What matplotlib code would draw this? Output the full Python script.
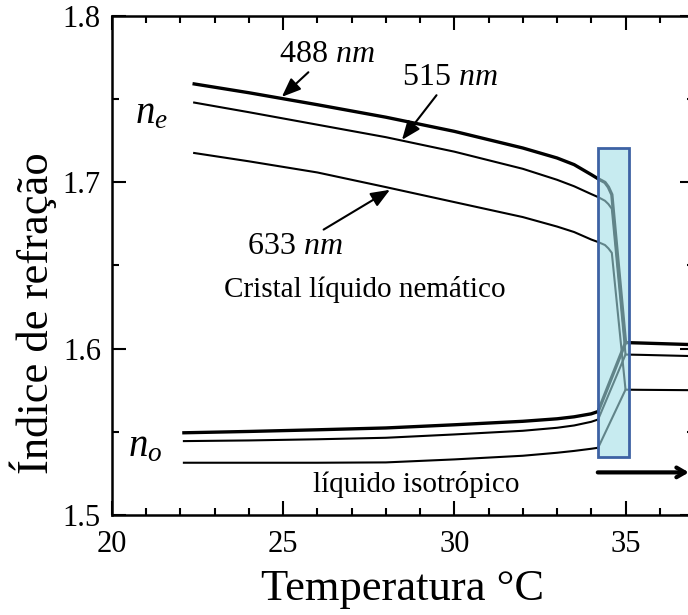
import matplotlib
matplotlib.use("Agg")
import matplotlib.pyplot as plt
import numpy as np
from matplotlib.patches import Rectangle

plt.rcParams["font.family"] = "Liberation Serif"
plt.rcParams["mathtext.fontset"] = "custom"
plt.rcParams["mathtext.rm"] = "Liberation Serif"
plt.rcParams["mathtext.it"] = "Liberation Serif:italic"

# nematic phase, extraordinary index (ne) up to the clearing point
temp_ne = [22.4, 24, 26, 28, 30, 32, 33, 33.5, 34, 34.2, 34.4, 34.5, 34.6]
ne_488 = [1.7590, 1.7537, 1.7465, 1.7390, 1.7305, 1.7205, 1.7145, 1.7105, 1.7045, 1.7020, 1.6998, 1.6970, 1.6925]
ne_515 = [1.7478, 1.7420, 1.7345, 1.7270, 1.7183, 1.7080, 1.7014, 1.6975, 1.6928, 1.6910, 1.6888, 1.6868, 1.6840]
ne_633 = [1.7175, 1.7125, 1.7058, 1.6970, 1.6880, 1.6790, 1.6733, 1.6700, 1.6655, 1.6640, 1.6622, 1.6602, 1.6575]

# nematic phase, ordinary index (no)
temp_no = [22.1, 24, 26, 28, 30, 32, 33, 33.5, 34, 34.2]
no_488 = [1.5494, 1.5502, 1.5512, 1.5523, 1.5542, 1.5563, 1.5578, 1.5590, 1.5608, 1.5622]
no_515 = [1.5444, 1.5448, 1.5455, 1.5464, 1.5484, 1.5506, 1.5524, 1.5538, 1.5560, 1.5574]
no_633 = [1.5314, 1.5314, 1.5314, 1.5316, 1.5334, 1.5356, 1.5374, 1.5385, 1.5398, 1.5404]

# isotropic liquid
temp_iso = [35.0, 35.5, 36.9]
iso_488 = [1.6036, 1.6033, 1.6024]
iso_515 = [1.5964, 1.5962, 1.5955]
iso_633 = [1.5753, 1.5752, 1.5750]

# transition band
band_t = [34.19, 35.10]
band_n = [1.5347, 1.7206]

fig = plt.figure(figsize=(6.88, 6.15), dpi=100)
ax = fig.add_axes([0.1628, 0.1626, 0.8459, 0.8119])

series = [(ne_488, no_488, iso_488, 2.4), (ne_515, no_515, iso_515, 1.5), (ne_633, no_633, iso_633, 1.5)]
for ne, no, iso, lw in series:
    ax.plot(temp_ne + temp_iso, ne + iso, color="black", lw=lw, zorder=2)
    ax.plot(temp_no + temp_iso[:1], no + iso[:1], color="black", lw=lw, zorder=2)

# transition region box
ax.add_patch(Rectangle((band_t[0], band_n[0]), band_t[1] - band_t[0], band_n[1] - band_n[0],
                       facecolor=(0.64, 0.87, 0.90, 0.6), edgecolor="#3d62a4", lw=2, zorder=3))

ax.set_xlim(20, 37)
ax.set_ylim(1.5, 1.8)
ax.set_xticks([20, 25, 30, 35])
ax.set_yticks([1.5, 1.6, 1.7, 1.8])
ax.set_xticks(np.arange(20, 37.1, 1), minor=True)
ax.set_yticks(np.arange(1.5, 1.801, 0.05), minor=True)
ax.tick_params(which="both", direction="in", top=True, right=True, width=1.5, labelsize=22)
ax.tick_params(axis="x", pad=11)
ax.tick_params(axis="y", pad=8)
ax.tick_params(which="major", length=10)
ax.tick_params(which="minor", length=5)
for s in ax.spines.values():
    s.set_linewidth(1.8)

ax.set_xlabel("Temperatura °C", fontsize=32, labelpad=7)
ax.set_ylabel("Índice de refração", fontsize=32)
ax.yaxis.set_label_coords(-0.094, 0.405)

# wavelength labels
arrow = dict(arrowstyle="-|>,head_length=0.5,head_width=0.2", color="black", lw=1.5, shrinkA=0, shrinkB=0)
ax.annotate("488 $nm$", xy=(24.96, 1.7512), xytext=(26.28, 1.7764), fontsize=23,
            ha="center", va="center", arrowprops=arrow)
ax.annotate("515 $nm$", xy=(28.47, 1.7254), xytext=(29.87, 1.7626), fontsize=23,
            ha="center", va="center", arrowprops=arrow)
ax.annotate("633 $nm$", xy=(28.12, 1.6954), xytext=(25.34, 1.6611), fontsize=23,
            ha="center", va="center", arrowprops=arrow)

ax.text(20.67, 1.7356, "$n_e$", fontsize=28, ha="left", va="baseline")
ax.text(20.47, 1.5352, "$n_o$", fontsize=28, ha="left", va="baseline")
ax.text(27.39, 1.6354, "Cristal líquido nemático", fontsize=21, ha="center", va="center")
ax.text(28.9, 1.5184, "líquido isotrópico", fontsize=21, ha="center", va="center")

ax.annotate("", xy=(36.85, 1.5256), xytext=(34.19, 1.5256),
            arrowprops=dict(arrowstyle="->,head_length=0.6,head_width=0.35", color="black", lw=3,
                            shrinkA=0, shrinkB=0))

fig.savefig("out.png", dpi=100)
